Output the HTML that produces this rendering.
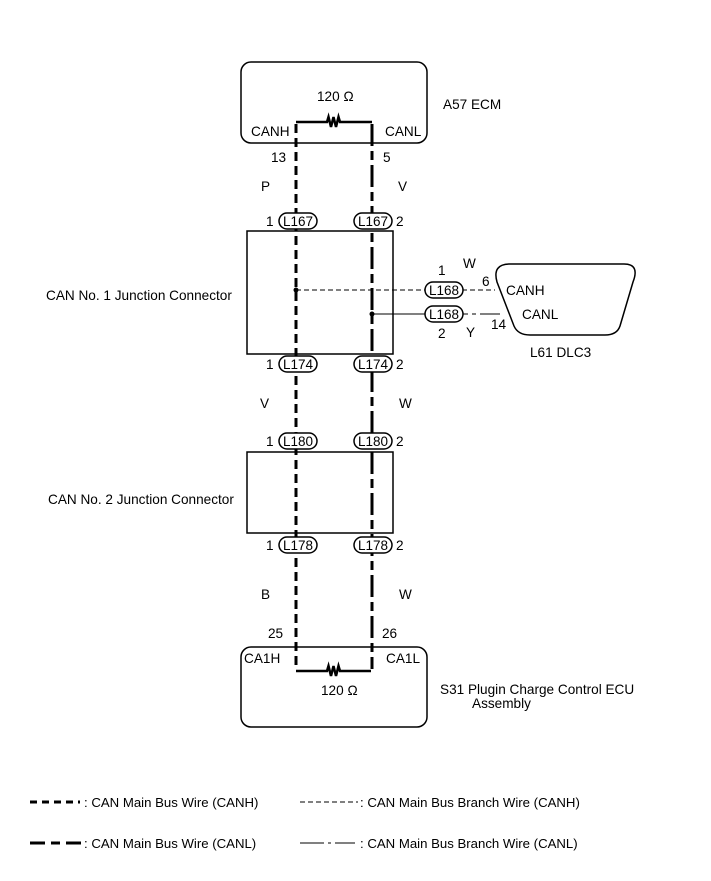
<!DOCTYPE html>
<html><head><meta charset="utf-8"><style>
html,body{margin:0;padding:0;background:#fff}
svg{display:block}
text{font-family:"Liberation Sans",Arial,sans-serif;font-size:13.6px;fill:#000}
.o{text-anchor:middle;font-size:13.5px}
.lg{font-size:13.2px}
</style></head><body>
<svg width="711" height="881" viewBox="0 0 711 881" xmlns="http://www.w3.org/2000/svg">
<g fill="none" stroke="#000">
<rect x="241" y="62" width="186" height="81" rx="10" stroke-width="1.5"/>
<rect x="241" y="647" width="186" height="80" rx="10" stroke-width="1.5"/>
<rect x="247" y="231" width="146" height="123" stroke-width="1.5"/>
<rect x="247" y="452" width="146" height="81" stroke-width="1.5"/>
<path d="M296 122 H327 l1.5 -5 l2.5 10 l2.5 -10 l2.5 10 l2.5 -10 l1.5 5 H372" stroke-width="2.5"/>
<path d="M296 671 H327 l1.5 -5 l2.5 10 l2.5 -10 l2.5 10 l2.5 -10 l1.5 5 H371" stroke-width="2.5"/>
<path d="M296 124 V669" stroke-width="3" stroke-dasharray="9 5"/>
<path d="M372 124 V669" stroke-width="3" stroke-dasharray="22 5 9 5"/>
<path d="M296 290 H425 M462 290 H495" stroke-width="1" stroke-dasharray="5 3"/>
<path d="M372 314 H425" stroke-width="1"/>
<path d="M462 314 H468 M472 314 H476 M480 314 H500" stroke-width="1"/>
<path d="M510 264 H624 Q640 264 633 282 L620 326 Q617 335 605 335 H530 Q518 335 514 326 L497 282 Q492 264 510 264 Z" stroke-width="1.5"/>
<g fill="#fff" stroke-width="1.5">
<rect x="279" y="213" width="38" height="16" rx="8"/>
<rect x="354" y="213" width="38" height="16" rx="8"/>
<rect x="279" y="356" width="38" height="16" rx="8"/>
<rect x="354" y="356" width="38" height="16" rx="8"/>
<rect x="279" y="433" width="38" height="16" rx="8"/>
<rect x="354" y="433" width="38" height="16" rx="8"/>
<rect x="279" y="537" width="38" height="16" rx="8"/>
<rect x="354" y="537" width="38" height="16" rx="8"/>
<rect x="425" y="282" width="38" height="16" rx="8"/>
<rect x="425" y="306" width="38" height="16" rx="8"/>
</g>
<path d="M30 802 H80" stroke-width="3" stroke-dasharray="7 5"/>
<path d="M300 802 H358" stroke-width="1" stroke-dasharray="5 3"/>
<path d="M30 843 H45 M51 843 H60 M66 843 H81" stroke-width="3"/>
<path d="M300 843 H324 M328 843 H331 M335 843 H355" stroke-width="1"/>
</g>
<circle cx="296" cy="290" r="2.5"/>
<circle cx="372" cy="314" r="2.5"/>
<g>
<text x="317" y="101">120 Ω</text>
<text x="251" y="136">CANH</text>
<text x="385" y="136">CANL</text>
<text x="443" y="109">A57  ECM</text>
<text x="271" y="162">13</text>
<text x="383" y="162">5</text>
<text x="261" y="191">P</text>
<text x="398" y="191">V</text>
<text class="o" x="298" y="226">L167</text>
<text class="o" x="373" y="226">L167</text>
<text x="266" y="226">1</text>
<text x="396" y="226">2</text>
<text x="46" y="300">CAN No. 1 Junction Connector</text>
<text x="463" y="268">W</text>
<text x="438" y="275">1</text>
<text x="482" y="286">6</text>
<text class="o" x="444" y="295">L168</text>
<text class="o" x="444" y="319">L168</text>
<text x="506" y="295">CANH</text>
<text x="522" y="319">CANL</text>
<text x="491" y="329">14</text>
<text x="438" y="338">2</text>
<text x="466" y="337">Y</text>
<text x="530" y="357">L61   DLC3</text>
<text class="o" x="298" y="369">L174</text>
<text class="o" x="373" y="369">L174</text>
<text x="266" y="369">1</text>
<text x="396" y="369">2</text>
<text x="260" y="408">V</text>
<text x="399" y="408">W</text>
<text class="o" x="298" y="446">L180</text>
<text class="o" x="373" y="446">L180</text>
<text x="266" y="446">1</text>
<text x="396" y="446">2</text>
<text x="48" y="504">CAN No. 2 Junction Connector</text>
<text class="o" x="298" y="550">L178</text>
<text class="o" x="373" y="550">L178</text>
<text x="266" y="550">1</text>
<text x="396" y="550">2</text>
<text x="261" y="599">B</text>
<text x="399" y="599">W</text>
<text x="268" y="638">25</text>
<text x="382" y="638">26</text>
<text x="244" y="663">CA1H</text>
<text x="386" y="663">CA1L</text>
<text x="321" y="695">120 Ω</text>
<text x="440" y="694">S31  Plugin Charge Control ECU</text>
<text x="472" y="708">Assembly</text>
<text class="lg" x="84" y="807">: CAN Main Bus Wire (CANH)</text>
<text class="lg" x="360" y="807">: CAN Main Bus Branch Wire (CANH)</text>
<text class="lg" x="84" y="848">: CAN Main Bus Wire (CANL)</text>
<text class="lg" x="360" y="848">: CAN Main Bus Branch Wire (CANL)</text>
</g>
</svg>
</body></html>
